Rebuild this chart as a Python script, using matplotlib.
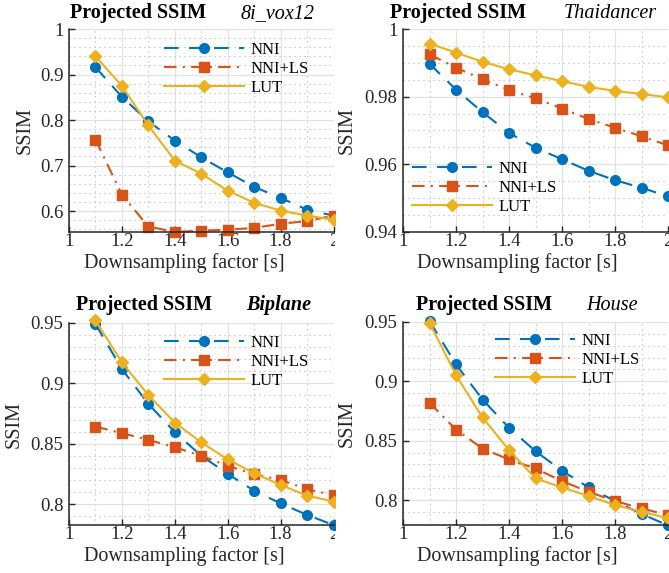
import numpy as np
import matplotlib
matplotlib.use("Agg")
import matplotlib.pyplot as plt
from matplotlib.ticker import MultipleLocator, FormatStrFormatter
from matplotlib.transforms import Bbox, TransformedBbox

plt.rcParams['font.family'] = ['Liberation Serif', 'DejaVu Serif']

# ---------- data ----------
factors = [1.1, 1.2, 1.3, 1.4, 1.5, 1.6, 1.7, 1.8, 1.9, 2.0]

vox_nni = [0.916, 0.851, 0.797, 0.755, 0.718, 0.685, 0.653, 0.629, 0.603, 0.590]
vox_nnils = [0.757, 0.636, 0.566, 0.554, 0.557, 0.559, 0.563, 0.572, 0.578, 0.590]
vox_lut = [0.940, 0.875, 0.788, 0.711, 0.682, 0.645, 0.618, 0.601, 0.590, 0.581]

thai_nni = [0.9897, 0.9821, 0.9754, 0.9693, 0.9649, 0.9615, 0.9581, 0.9553, 0.9531, 0.9505]
thai_nnils = [0.9925, 0.9886, 0.9851, 0.9820, 0.9795, 0.9765, 0.9734, 0.9708, 0.9683, 0.9656]
thai_lut = [0.9957, 0.9930, 0.9903, 0.9881, 0.9863, 0.9846, 0.9829, 0.9817, 0.9808, 0.9798]

bip_nni = [0.9492, 0.9118, 0.8830, 0.8595, 0.8400, 0.8250, 0.8110, 0.8005, 0.7910, 0.7826]
bip_nnils = [0.8642, 0.8587, 0.8532, 0.8470, 0.8400, 0.8317, 0.8247, 0.8200, 0.8122, 0.8075]
bip_lut = [0.9522, 0.9173, 0.8902, 0.8675, 0.8510, 0.8370, 0.8255, 0.8158, 0.8070, 0.8020]

house_nni = [0.9508, 0.9144, 0.8847, 0.8608, 0.8412, 0.8247, 0.8107, 0.7992, 0.7883, 0.7787]
house_nnils = [0.8819, 0.8594, 0.8434, 0.8342, 0.8266, 0.8160, 0.8070, 0.7992, 0.7930, 0.7874]
house_lut = [0.9492, 0.9052, 0.8696, 0.8421, 0.8182, 0.8107, 0.8034, 0.7958, 0.7902, 0.7846]

labels = ['NNI', 'NNI+LS', 'LUT']
colors = ['#0072BD', '#D95319', '#EDB120']

W, H = 669, 573
fig = plt.figure(figsize=(W / 100, H / 100), dpi=100)

# panel settings: name, bold name, series, ylim, major/minor y step,
# axes box in pixels (left, top, right, bottom), legend anchor, title x range,
# xlabel x, ylabel x, clip region in pixels (x0, y0, x1, y1)
panels = [
    dict(name='8i_vox12', bold=False, data=(vox_nni, vox_nnils, vox_lut),
         ylim=(0.554, 1.0), major=0.1, minor=0.02, fmt='%g',
         box=(69, 29, 333.5, 232), leg=(0.36, 0.935),
         tx=(70, 315), ty=18, xl=0.437, yl=25, clip=(0, 0, 335, 290)),
    dict(name='Thaidancer', bold=False, data=(thai_nni, thai_nnils, thai_lut),
         ylim=(0.94, 1.0), major=0.02, minor=0.005, fmt='%g',
         box=(403, 29, 668, 232), leg=(0.035, 0.35),
         tx=(390, 657), ty=18, xl=0.432, yl=347, clip=(335, 0, 669, 290)),
    dict(name='Biplane', bold=True, data=(bip_nni, bip_nnils, bip_lut),
         ylim=(0.7826, 0.95), major=0.05, minor=0.01, fmt='%g',
         box=(69, 323, 333.5, 525), leg=(0.36, 0.94),
         tx=(76, 311), ty=310, xl=0.437, yl=14.5, clip=(0, 290, 335, 573)),
    dict(name='House', bold=False, data=(house_nni, house_nnils, house_lut),
         ylim=(0.779, 0.95), major=0.05, minor=0.01, fmt='%g',
         box=(403, 322, 668, 525), leg=(0.348, 0.945),
         tx=(416, 638), ty=310, xl=0.432, yl=347, clip=(335, 290, 669, 573)),
]

styles = [
    dict(marker='o', ms=7, dashes=(7, 5)),
    dict(marker='s', ms=7, dashes=(6, 3, 1, 3)),
    dict(marker='D', ms=6, dashes=None),
]

for p in panels:
    l, t, r, b = p['box']
    ax = fig.add_axes([l / W, 1 - b / H, (r - l) / W, (b - t) / H])

    x0, y0, x1, y1 = p['clip']
    cbox = TransformedBbox(Bbox([[x0 / W, 1 - y1 / H], [x1 / W, 1 - y0 / H]]),
                           fig.transFigure)

    for vals, lab, col, st in zip(p['data'], labels, colors, styles):
        line, = ax.plot(factors, vals, color=col, lw=1.5, marker=st['marker'],
                        ms=st['ms'], mec=col, mfc=col, label=lab)
        if st['dashes'] is not None:
            line.set_dashes(st['dashes'])
        line.set_clip_box(cbox)

    ax.set_xlim(1, 2)
    ax.set_ylim(*p['ylim'])
    ax.xaxis.set_major_locator(MultipleLocator(0.2))
    ax.xaxis.set_minor_locator(MultipleLocator(0.1))
    ax.yaxis.set_major_locator(MultipleLocator(p['major']))
    ax.yaxis.set_minor_locator(MultipleLocator(p['minor']))
    ax.xaxis.set_major_formatter(FormatStrFormatter('%g'))
    ax.yaxis.set_major_formatter(FormatStrFormatter(p['fmt']))

    ax.set_axisbelow(True)
    ax.grid(True, which='major', color='#e2e2e2', lw=0.9, ls='-')
    ax.grid(True, which='minor', color='#b5b5b5', lw=0.8, ls=(0, (1, 3.5)))

    for side in ('top', 'right'):
        ax.spines[side].set_visible(False)
    for side in ('left', 'bottom'):
        ax.spines[side].set_color('#262626')
        ax.spines[side].set_linewidth(1.1)

    ax.tick_params(which='major', direction='in', length=4, width=1,
                   color='#262626', labelsize=13.5, labelcolor='#262626')
    ax.tick_params(axis='x', pad=1)
    ax.tick_params(axis='y', pad=4)
    ax.tick_params(which='minor', length=0)
    for lab in ax.get_xticklabels():
        lab.set_clip_box(cbox)
        lab.set_clip_on(True)

    ax.set_xlabel('Downsampling factor [s]', fontsize=14.5, color='#262626',
                  va='center')
    ax.xaxis.set_label_coords(p['xl'], -31 / (b - t))
    ax.set_ylabel('SSIM', fontsize=14.5, color='#262626', va='center')
    ax.yaxis.set_label_coords((p['yl'] - l) / (r - l), 0.5)

    ax.legend(loc='upper left', bbox_to_anchor=p['leg'], frameon=False,
              fontsize=12, handlelength=4.8, handletextpad=0.35,
              labelspacing=0.18, borderpad=0, borderaxespad=0)

    fig.text(p['tx'][0] / W, 1 - p['ty'] / H, 'Projected SSIM', fontsize=14.5,
             fontweight='bold', ha='left', va='baseline')
    fig.text(p['tx'][1] / W, 1 - p['ty'] / H, p['name'], fontsize=14.5,
             fontstyle='italic', fontweight='bold' if p['bold'] else 'normal',
             ha='right', va='baseline')

fig.savefig('out.png', dpi=100)
